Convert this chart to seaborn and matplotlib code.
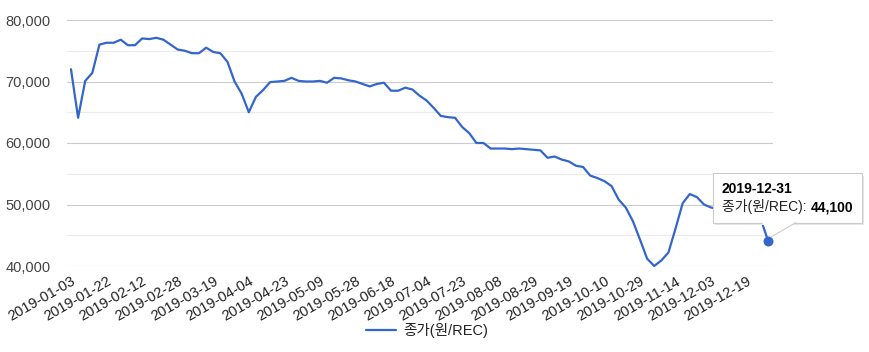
import pandas as pd
import matplotlib
matplotlib.use('Agg')
import matplotlib.pyplot as plt
import matplotlib.patches as mpatches
from matplotlib.lines import Line2D
from matplotlib.text import Annotation
import seaborn as sns

# 종가 (원/REC), 2019년 거래일 순서대로
prices = [72000, 64100, 70100, 71400, 76000, 76300, 76300, 76800, 75900, 75900,
          77000, 76900, 77100, 76800, 76000, 75200, 75000, 74600, 74600, 75500,
          74800, 74600, 73200, 70000, 68000, 65000, 67500, 68600, 69900, 70000,
          70100, 70600, 70100, 70000, 70000, 70100, 69800, 70600, 70500, 70200,
          70000, 69600, 69200, 69600, 69800, 68500, 68500, 69000, 68700, 67700,
          66900, 65700, 64400, 64200, 64100, 62600, 61600, 60000, 60000, 59100,
          59100, 59100, 59000, 59100, 59000, 58900, 58800, 57600, 57800, 57300,
          57000, 56300, 56100, 54700, 54300, 53800, 53000, 50800, 49500, 47300,
          44300, 41200, 40000, 40900, 42200, 46100, 50200, 51700, 51200, 50000,
          49500, 49300, 49600, 49200, 48800, 48400, 48000, 47600, 44100]

# 축에 표시되는 날짜 (5거래일 간격)
tick_dates = ['2019-01-03', '2019-01-22', '2019-02-12', '2019-02-28', '2019-03-19',
              '2019-04-04', '2019-04-23', '2019-05-09', '2019-05-28', '2019-06-18',
              '2019-07-04', '2019-07-23', '2019-08-08', '2019-08-29', '2019-09-19',
              '2019-10-10', '2019-10-29', '2019-11-14', '2019-12-03', '2019-12-19']
last_date = '2019-12-31'
series_name = '종가(원/REC)'

df = pd.DataFrame({'idx': range(len(prices)), series_name: prices})

sns.set_style('white')
plt.rcParams['font.family'] = ['Liberation Sans', 'Noto Sans CJK KR', 'DejaVu Sans']

W, H = 869, 352
def fx(x):
    return x / W
def fy(y):
    return 1 - y / H

fig = plt.figure(figsize=(W / 100, H / 100), dpi=100)
ax = fig.add_axes([fx(67), fy(266), fx(773) - fx(67), fy(20) - fy(266)])

blue = '#3366cc'
sns.lineplot(data=df, x='idx', y=series_name, ax=ax, color=blue, linewidth=1.6,
             legend=False, clip_on=False, zorder=3)

# 마지막 점 강조
ax.scatter([df['idx'].iloc[-1]], [prices[-1]], s=38, color=blue, zorder=4, clip_on=False)

ax.set_ylim(40000, 80000)
ax.set_xlim(-0.56, len(prices) - 1 + 0.7)
ax.set_yticks(range(40000, 80001, 10000))
ax.set_yticks(range(45000, 80000, 10000), minor=True)
ax.set_yticklabels([f'{v:,}' for v in range(40000, 80001, 10000)])
ax.set_xticks(list(range(0, len(prices), 5))[:len(tick_dates)])
ax.set_xticklabels(tick_dates, rotation=30, ha='right', va='top', rotation_mode='anchor')
ax.tick_params(axis='y', length=0, pad=12, labelsize=10.5, colors='#444444', which='both')
ax.tick_params(axis='x', length=0, pad=6, labelsize=10.5, colors='#222222')
ax.grid(axis='y', which='major', color='#cccccc', linewidth=0.8)
ax.grid(axis='y', which='minor', color='#ebebeb', linewidth=0.8)
ax.grid(axis='x', visible=False)
ax.set_axisbelow(True)
for s in ax.spines.values():
    s.set_visible(False)
ax.set_xlabel('')
ax.set_ylabel('')

# 범례
handle = Line2D([], [], color=blue, linewidth=1.6)
fig.legend([handle], [series_name], loc='center', bbox_to_anchor=(fx(427), fy(331)),
           frameon=False, fontsize=10.5, handlelength=2.0, handletextpad=0.5,
           labelcolor='#222222')

# 툴팁
shadow = mpatches.Rectangle((fx(715), fy(225)), fx(862) - fx(713), fy(173) - fy(222.5),
                            transform=fig.transFigure, facecolor='#e6e6e6',
                            edgecolor='none', zorder=9)
box = mpatches.Rectangle((fx(713), fy(222.5)), fx(862) - fx(713), fy(173) - fy(222.5),
                         transform=fig.transFigure, facecolor='white',
                         edgecolor='#cccccc', linewidth=0.8, zorder=10)
fig.patches.extend([shadow, box])
tail = mpatches.Polygon([(fx(762), fy(222.2)), (fx(796), fy(222.2)), (fx(771), fy(237))],
                        closed=True, transform=fig.transFigure, facecolor='white',
                        edgecolor='none', zorder=11)
fig.patches.append(tail)
fig.add_artist(Line2D([fx(796), fx(771)], [fy(222.5), fy(237)], color='#cccccc',
                      linewidth=0.8, transform=fig.transFigure, zorder=12))

fig.text(fx(722), fy(193), last_date, fontsize=10, fontweight='bold', color='black',
         va='baseline', ha='left', zorder=13)
t1 = fig.text(fx(722), fy(211), series_name + ': ', fontsize=10, color='#222222',
              va='baseline', ha='left', zorder=13)
val = Annotation(f'{prices[-1]:,}', xy=(1, 0), xycoords=t1, va='bottom', ha='left',
                 fontsize=10, fontweight='bold', color='black', annotation_clip=False)
val.set_zorder(13)
fig.add_artist(val)

fig.savefig('out.png', dpi=100)
